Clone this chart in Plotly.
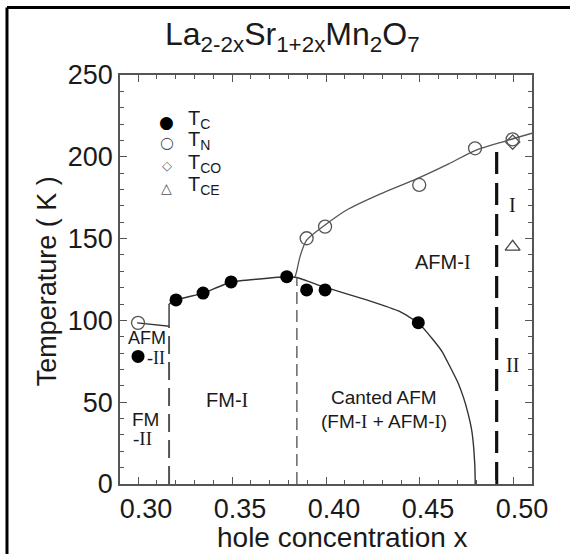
import plotly.graph_objects as go

# Measured transition temperatures
tc_x = [0.300, 0.3202, 0.3346, 0.3495, 0.3791, 0.3897, 0.3995, 0.4491]
tc_t = [78, 112.5, 116.7, 123.5, 126.7, 118.6, 118.6, 98.6]

tn_x = [0.300, 0.3897, 0.3995, 0.4496, 0.4793, 0.4993]
tn_t = [98.5, 150.2, 157.3, 182.8, 205.2, 210.7]

tco_x = [0.4993]
tco_t = [209]

tce_x = [0.4993]
tce_t = [145]

# Phase boundary guides
tc_line_x = [0.3165, 0.3202, 0.3346, 0.3495, 0.3791, 0.3845, 0.3986, 0.4216,
             0.4394, 0.4491, 0.4571, 0.4620, 0.4660, 0.4700, 0.4730, 0.4755,
             0.4775, 0.4786, 0.4792, 0.4794]
tc_line_t = [110, 112.5, 116.7, 123.5, 126.7, 126.2, 120.6, 112.5,
             105.3, 98.6, 88, 80.5, 71.7, 62.5, 53.4, 43.5,
             33, 22, 11, 0]

tn_low_x = [0.2995, 0.3165, 0.3165]
tn_low_t = [98.5, 96.5, 110]

tn_line_x = [0.3835, 0.3844, 0.3862, 0.3897, 0.3995, 0.4110, 0.4287,
             0.4482, 0.4650, 0.4793, 0.4950, 0.5096]
tn_line_t = [126.5, 130, 139, 149, 158.3, 167.5, 177.2,
             186.5, 195.5, 203.8, 209.5, 214.4]

# Vertical phase separators: x, top temperature
sep_x = [0.3165, 0.3845, 0.4908]
sep_top = [96, 126, 207]

x_ticks = [0.30, 0.35, 0.40, 0.45, 0.50]
x_ticklabels = ["0.30", "0.35", "0.40", "0.45", "0.50"]
y_ticks = [0, 50, 100, 150, 200, 250]

# Key entries
key_symbols = ["●", "○", "◇", "△"]
key_labels = ["T<sub>C</sub>", "T<sub>N</sub>", "T<sub>CO</sub>", "T<sub>CE</sub>"]

SERIF = "Liberation Serif"
SANS = "Liberation Sans"
INK = "#1a1a1a"
GRID = "#555555"


def rn(s):
    return f"<span style='font-family:{SERIF}'>{s}</span>"


# Region labels: text, x, T, size
region_text = ["AFM", rn("-II"), "FM", rn("-II"), "FM-" + rn("I"),
               "Canted AFM", "(FM-" + rn("I") + " + AFM-" + rn("I") + ")",
               "AFM-" + rn("I"), rn("I"), rn("II")]
region_x = [0.3048, 0.3098, 0.3037, 0.3024, 0.3473,
            0.4311, 0.4306, 0.4620, 0.4993, 0.4993]
region_t = [89, 77, 39.4, 28, 51.6,
            52.9, 38.5, 136, 170.5, 73]
region_size = [18, 18, 19, 19, 20, 19, 19, 20, 20, 20]

fig = go.Figure()

# boundary lines
fig.add_trace(go.Scatter(x=tn_low_x, y=tn_low_t, mode="lines",
                         line=dict(color="#333", width=1.4), hoverinfo="skip"))
fig.add_trace(go.Scatter(x=tc_line_x, y=tc_line_t, mode="lines",
                         line=dict(color="#333", width=1.4, shape="spline", smoothing=0.3),
                         hoverinfo="skip"))
fig.add_trace(go.Scatter(x=tn_line_x, y=tn_line_t, mode="lines",
                         line=dict(color="#555", width=1.3, shape="spline", smoothing=0.8),
                         hoverinfo="skip"))

# separators
sep_style = [dict(color="#555", width=2.0, dash="18px,8px"),
             dict(color="#666", width=1.5, dash="12px,6px"),
             dict(color="#111", width=3.2, dash="22px,9px")]
for sx, st, ls in zip(sep_x, sep_top, sep_style):
    fig.add_trace(go.Scatter(x=[sx, sx], y=[0, st], mode="lines", line=ls,
                             hoverinfo="skip"))

# data markers
fig.add_trace(go.Scatter(x=tc_x, y=tc_t, mode="markers",
                         marker=dict(symbol="circle", size=13, color="#000",
                                     line=dict(width=0))))
fig.add_trace(go.Scatter(x=tn_x, y=tn_t, mode="markers",
                         marker=dict(symbol="circle-open", size=13, color="#555",
                                     line=dict(width=1.3))))
fig.add_trace(go.Scatter(x=tco_x, y=tco_t, mode="markers",
                         marker=dict(symbol="diamond-open", size=11, color="#555",
                                     line=dict(width=1.3))))
fig.add_trace(go.Scatter(x=tce_x, y=tce_t, mode="markers",
                         marker=dict(symbol="triangle-up-open", size=13, color="#444",
                                     line=dict(width=1.3))))

for txt, rx, rt, rs in zip(region_text, region_x, region_t, region_size):
    fig.add_annotation(x=rx, y=rt, text=txt, showarrow=False,
                       font=dict(family=SANS, size=rs, color=INK),
                       xanchor="center", yanchor="middle")

# key in the upper-left corner of the plot
key_y = [0.885, 0.834, 0.778, 0.724]
key_sym_size = [17, 16, 13, 14]
key_sym_color = ["#000", "#555", "#666", "#555"]
for sym, lab, ky, ks, kc in zip(key_symbols, key_labels, key_y, key_sym_size, key_sym_color):
    fig.add_annotation(xref="paper", yref="paper", x=0.114, y=ky, text=sym,
                       showarrow=False, font=dict(family="DejaVu Sans", size=ks, color=kc),
                       xanchor="center", yanchor="middle")
    fig.add_annotation(xref="paper", yref="paper", x=0.160, y=ky + 0.006, text=lab,
                       showarrow=False, font=dict(family=SANS, size=20, color=INK),
                       xanchor="left", yanchor="middle")

# title formula
fig.add_annotation(xref="paper", yref="paper", x=0.4199, y=1.095,
                   text="La<sub>2-2x</sub>Sr<sub>1+2x</sub>Mn<sub>2</sub>O<sub>7</sub>",
                   showarrow=False, font=dict(family=SANS, size=32, color=INK),
                   xanchor="center", yanchor="middle")

# y-axis title
fig.add_annotation(xref="paper", yref="paper", x=-0.177, y=0.496,
                   text="Temperature ( K )", textangle=-90, showarrow=False,
                   font=dict(family=SANS, size=27, color=INK),
                   xanchor="center", yanchor="middle")

# x-axis title
fig.add_annotation(xref="paper", yref="paper", x=0.539, y=-0.13,
                   text="hole concentration x", showarrow=False,
                   font=dict(family=SANS, size=28, color=INK),
                   xanchor="center", yanchor="middle")

# outer frame
fig.add_shape(type="line", xref="paper", yref="paper",
              x0=-0.2743, x1=1.2, y0=1.1651, y1=1.1651,
              line=dict(color="#000", width=3))
fig.add_shape(type="line", xref="paper", yref="paper",
              x0=-0.2743, x1=-0.2743, y0=-0.3, y1=1.1651,
              line=dict(color="#000", width=3))

fig.update_xaxes(range=[0.2904, 0.5096], tickvals=x_ticks, ticktext=x_ticklabels,
                 ticks="inside", ticklen=7, tickwidth=1.2, tickcolor=GRID,
                 minor=dict(dtick=0.01, tick0=0.30, ticks="inside", ticklen=4,
                            tickcolor=GRID, tickwidth=1),
                 showline=True, linecolor=GRID, linewidth=1.5, mirror="ticks",
                 showgrid=False, zeroline=False, ticklabelshift=8,
                 tickfont=dict(family=SANS, size=27, color=INK))
fig.update_yaxes(range=[0, 250], tickvals=y_ticks,
                 ticks="inside", ticklen=7, tickwidth=1.2, tickcolor=GRID,
                 minor=dict(dtick=10, tick0=0, ticks="inside", ticklen=4,
                            tickcolor=GRID, tickwidth=1),
                 showline=True, linecolor=GRID, linewidth=1.5, mirror="ticks",
                 showgrid=False, zeroline=False, ticklabelstandoff=0,
                 tickfont=dict(family=SANS, size=27, color=INK))

fig.update_layout(
    width=570, height=554,
    margin=dict(l=120, r=38, t=75, b=70),
    paper_bgcolor="white", plot_bgcolor="white",
    showlegend=False,
)

fig.write_html("out.html")
